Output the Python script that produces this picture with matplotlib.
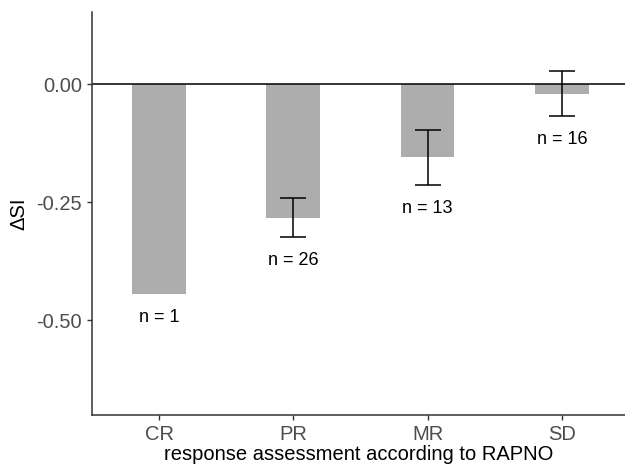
import numpy as np
import matplotlib.pyplot as plt

plt.rcParams['font.family'] = ['Liberation Sans', 'DejaVu Sans']

# data
categories = ["CR", "PR", "MR", "SD"]
mean_dsi = [-0.445, -0.283, -0.155, -0.020]
se_dsi = [0.0, 0.041, 0.058, 0.047]
n_labels = ["n = 1", "n = 26", "n = 13", "n = 16"]

x = np.arange(1, len(categories) + 1)

fig = plt.figure(figsize=(6.25, 4.67), dpi=100)
ax = fig.add_axes([0.147, 0.111, 0.853, 0.863])

ax.bar(x, mean_dsi, width=0.4, color="#ADADAD", zorder=1)
ax.axhline(0, color="black", lw=1.1, zorder=2)

has_err = np.array(se_dsi) > 0
ax.errorbar(x[has_err], np.array(mean_dsi)[has_err], yerr=np.array(se_dsi)[has_err],
            fmt="none", ecolor="black", elinewidth=1.1, capsize=9.6, capthick=1.1, zorder=3)

for xi, m, s, lab in zip(x, mean_dsi, se_dsi, n_labels):
    ax.text(xi, m - s - 0.05, lab, ha="center", va="center", fontsize=13, color="black")

ax.set_xlim(0.5, 4.47)
ax.set_ylim(-0.701, 0.1525)
ax.set_xticks(x)
ax.set_xticklabels(categories)
ax.set_yticks([0.0, -0.25, -0.5])
ax.set_yticklabels(["0.00", "-0.25", "-0.50"])
ax.tick_params(labelsize=14.5, labelcolor="#4D4D4D", color="#333333", length=3.5, width=1)

for side in ["top", "right"]:
    ax.spines[side].set_visible(False)
for side in ["left", "bottom"]:
    ax.spines[side].set_color("#333333")
    ax.spines[side].set_linewidth(1.1)

ax.set_xlabel("response assessment according to RAPNO", fontsize=14.5, labelpad=1)
ax.set_ylabel("ΔSI", fontsize=14.5, labelpad=6)

fig.savefig("out.png", dpi=100)
